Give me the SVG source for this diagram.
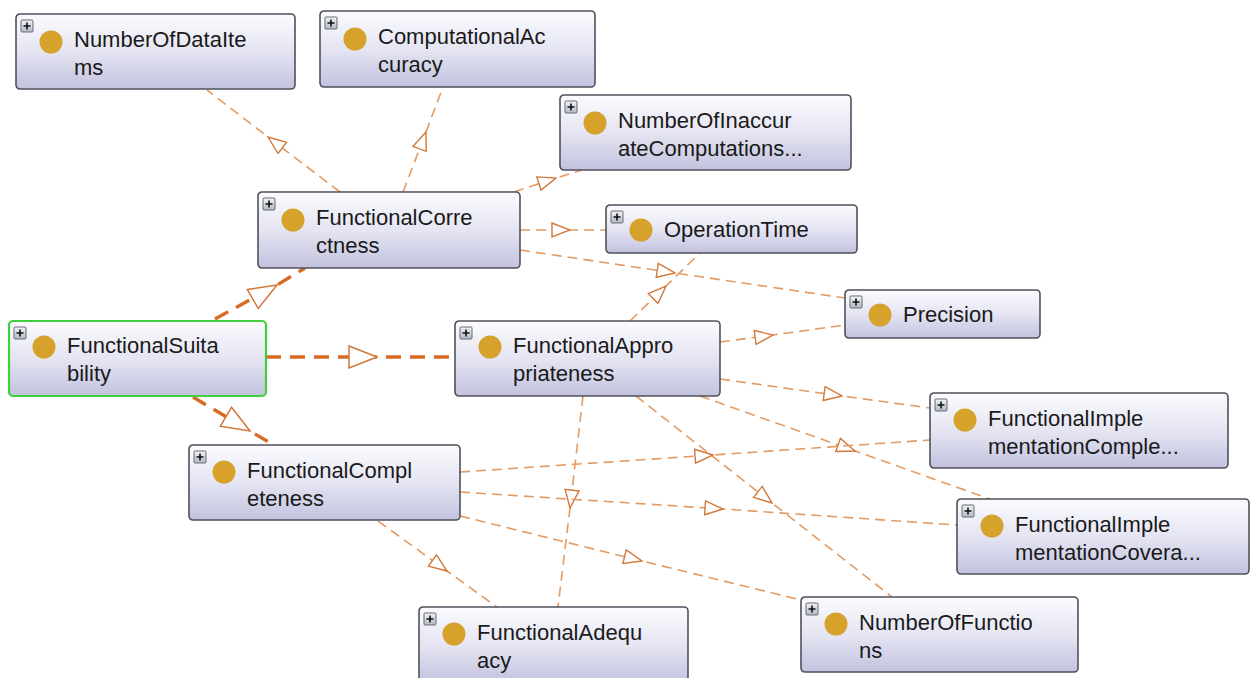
<svg xmlns="http://www.w3.org/2000/svg" width="1256" height="678" viewBox="0 0 1256 678">
<style>
.box{fill:url(#nodeGrad);stroke:#50505c;stroke-width:1.6}
.sel{stroke:#3fcf3f;stroke-width:2.2}
.dot{fill:#d6a22c}
.lbl{font-family:"Liberation Sans",Arial,sans-serif;font-size:22px;fill:#1a1a1a}
.pbox{fill:url(#plusGrad);stroke:#6a6a72;stroke-width:1}
.pl{stroke:#111;stroke-width:1.6}
.thin{fill:none;stroke:#e49b62;stroke-width:1.6;stroke-dasharray:10 6;marker-mid:url(#triS)}
.thick{fill:none;stroke:#d86a26;stroke-width:3.4;stroke-dasharray:15 9;marker-mid:url(#triL)}
</style>
<defs>
<linearGradient id="nodeGrad" x1="0" y1="0" x2="0" y2="1">
<stop offset="0" stop-color="#fbfbfe"/>
<stop offset="0.5" stop-color="#e5e5f3"/>
<stop offset="1" stop-color="#c2c2df"/>
</linearGradient>
<linearGradient id="plusGrad" x1="0" y1="0" x2="0" y2="1">
<stop offset="0" stop-color="#f2f5f8"/>
<stop offset="1" stop-color="#aeb9c6"/>
</linearGradient>
<marker id="triS" viewBox="0 0 20 16" refX="19" refY="8" markerWidth="20" markerHeight="16" markerUnits="userSpaceOnUse" orient="auto">
<path d="M1,1 L19,8 L1,15 Z" fill="#ffffff" stroke="#d2783c" stroke-width="1.4"/>
</marker>
<marker id="triL" viewBox="0 0 30 24" refX="29" refY="12" markerWidth="30" markerHeight="24" markerUnits="userSpaceOnUse" orient="auto">
<path d="M1,1 L29,12 L1,23 Z" fill="#ffffff" stroke="#d2783c" stroke-width="1.5"/>
</marker>
</defs>
<rect width="1256" height="678" fill="#ffffff"/>
<g id="connectors">
<path class="thin" d="M340,192 L268,137 L207,90"/>
<path class="thin" d="M403,192 L426,132 L443,87"/>
<path class="thin" d="M514,192 L556,178 L582,170"/>
<path class="thin" d="M520,230 L570,230 L606,230"/>
<path class="thin" d="M520,250 L675,273 L845,298"/>
<path class="thin" d="M630,321 L666,286 L700,253"/>
<path class="thin" d="M720,342 L773,335 L845,325"/>
<path class="thin" d="M720,379 L842,396 L930,408"/>
<path class="thin" d="M700,396 L855,451 L990,499"/>
<path class="thin" d="M636,396 L772,503 L892,597"/>
<path class="thin" d="M583,396 L570,508 L558,607"/>
<path class="thin" d="M460,472 L713,455 L930,440"/>
<path class="thin" d="M460,492 L723,509 L957,525"/>
<path class="thin" d="M460,516 L642,561 L801,600"/>
<path class="thin" d="M378,521 L447,571 L497,607"/>
<path class="thick" d="M215,319 L277,285 L305,268"/>
<path class="thick" d="M266,357 L377,357 L455,357"/>
<path class="thick" d="M193,397 L250,431 L272,444"/>
</g>
<g id="n-NumberOfDataItems" transform="translate(16,14)">
<rect class="box" width="279" height="75" rx="4"/>
<rect class="pbox" x="5" y="6" width="12" height="12" rx="1"/><path class="pl" d="M7.5,12 H14.5 M11,8.5 V15.5"/>
<circle class="dot" cx="35" cy="28" r="11.5"/>
<text class="lbl" x="58" y="33">NumberOfDataIte</text><text class="lbl" x="58" y="61">ms</text>
</g>
<g id="n-ComputationalAccuracy" transform="translate(320,11)">
<rect class="box" width="275" height="76" rx="4"/>
<rect class="pbox" x="5" y="6" width="12" height="12" rx="1"/><path class="pl" d="M7.5,12 H14.5 M11,8.5 V15.5"/>
<circle class="dot" cx="35" cy="28" r="11.5"/>
<text class="lbl" x="58" y="33">ComputationalAc</text><text class="lbl" x="58" y="61">curacy</text>
</g>
<g id="n-NumberOfInaccurateComputations" transform="translate(560,95)">
<rect class="box" width="291" height="75" rx="4"/>
<rect class="pbox" x="5" y="6" width="12" height="12" rx="1"/><path class="pl" d="M7.5,12 H14.5 M11,8.5 V15.5"/>
<circle class="dot" cx="35" cy="28" r="11.5"/>
<text class="lbl" x="58" y="33">NumberOfInaccur</text><text class="lbl" x="58" y="61">ateComputations...</text>
</g>
<g id="n-FunctionalCorrectness" transform="translate(258,192)">
<rect class="box" width="262" height="76" rx="4"/>
<rect class="pbox" x="5" y="6" width="12" height="12" rx="1"/><path class="pl" d="M7.5,12 H14.5 M11,8.5 V15.5"/>
<circle class="dot" cx="35" cy="28" r="11.5"/>
<text class="lbl" x="58" y="33">FunctionalCorre</text><text class="lbl" x="58" y="61">ctness</text>
</g>
<g id="n-OperationTime" transform="translate(606,205)">
<rect class="box" width="251" height="48" rx="4"/>
<rect class="pbox" x="5" y="6" width="12" height="12" rx="1"/><path class="pl" d="M7.5,12 H14.5 M11,8.5 V15.5"/>
<circle class="dot" cx="35" cy="25" r="11.5"/>
<text class="lbl" x="58" y="32">OperationTime</text>
</g>
<g id="n-Precision" transform="translate(845,290)">
<rect class="box" width="195" height="48" rx="4"/>
<rect class="pbox" x="5" y="6" width="12" height="12" rx="1"/><path class="pl" d="M7.5,12 H14.5 M11,8.5 V15.5"/>
<circle class="dot" cx="35" cy="25" r="11.5"/>
<text class="lbl" x="58" y="32">Precision</text>
</g>
<g id="n-FunctionalSuitability" transform="translate(9,321)">
<rect class="box sel" width="257" height="75" rx="4"/>
<rect class="pbox" x="5" y="6" width="12" height="12" rx="1"/><path class="pl" d="M7.5,12 H14.5 M11,8.5 V15.5"/>
<circle class="dot" cx="35" cy="26" r="11.5"/>
<text class="lbl" x="58" y="32">FunctionalSuita</text><text class="lbl" x="58" y="60">bility</text>
</g>
<g id="n-FunctionalAppropriateness" transform="translate(455,321)">
<rect class="box" width="265" height="75" rx="4"/>
<rect class="pbox" x="5" y="6" width="12" height="12" rx="1"/><path class="pl" d="M7.5,12 H14.5 M11,8.5 V15.5"/>
<circle class="dot" cx="35" cy="26" r="11.5"/>
<text class="lbl" x="58" y="32">FunctionalAppro</text><text class="lbl" x="58" y="60">priateness</text>
</g>
<g id="n-FunctionalImplementationCompleteness" transform="translate(930,393)">
<rect class="box" width="298" height="75" rx="4"/>
<rect class="pbox" x="5" y="6" width="12" height="12" rx="1"/><path class="pl" d="M7.5,12 H14.5 M11,8.5 V15.5"/>
<circle class="dot" cx="35" cy="27" r="11.5"/>
<text class="lbl" x="58" y="33">FunctionalImple</text><text class="lbl" x="58" y="61">mentationComple...</text>
</g>
<g id="n-FunctionalCompleteness" transform="translate(189,445)">
<rect class="box" width="271" height="75" rx="4"/>
<rect class="pbox" x="5" y="6" width="12" height="12" rx="1"/><path class="pl" d="M7.5,12 H14.5 M11,8.5 V15.5"/>
<circle class="dot" cx="35" cy="27" r="11.5"/>
<text class="lbl" x="58" y="33">FunctionalCompl</text><text class="lbl" x="58" y="61">eteness</text>
</g>
<g id="n-FunctionalImplementationCoverage" transform="translate(957,499)">
<rect class="box" width="292" height="75" rx="4"/>
<rect class="pbox" x="5" y="6" width="12" height="12" rx="1"/><path class="pl" d="M7.5,12 H14.5 M11,8.5 V15.5"/>
<circle class="dot" cx="35" cy="27" r="11.5"/>
<text class="lbl" x="58" y="33">FunctionalImple</text><text class="lbl" x="58" y="61">mentationCovera...</text>
</g>
<g id="n-FunctionalAdequacy" transform="translate(419,607)">
<rect class="box" width="269" height="76" rx="4"/>
<rect class="pbox" x="5" y="6" width="12" height="12" rx="1"/><path class="pl" d="M7.5,12 H14.5 M11,8.5 V15.5"/>
<circle class="dot" cx="35" cy="27" r="11.5"/>
<text class="lbl" x="58" y="33">FunctionalAdequ</text><text class="lbl" x="58" y="61">acy</text>
</g>
<g id="n-NumberOfFunctions" transform="translate(801,597)">
<rect class="box" width="277" height="75" rx="4"/>
<rect class="pbox" x="5" y="6" width="12" height="12" rx="1"/><path class="pl" d="M7.5,12 H14.5 M11,8.5 V15.5"/>
<circle class="dot" cx="35" cy="27" r="11.5"/>
<text class="lbl" x="58" y="33">NumberOfFunctio</text><text class="lbl" x="58" y="61">ns</text>
</g>
</svg>
